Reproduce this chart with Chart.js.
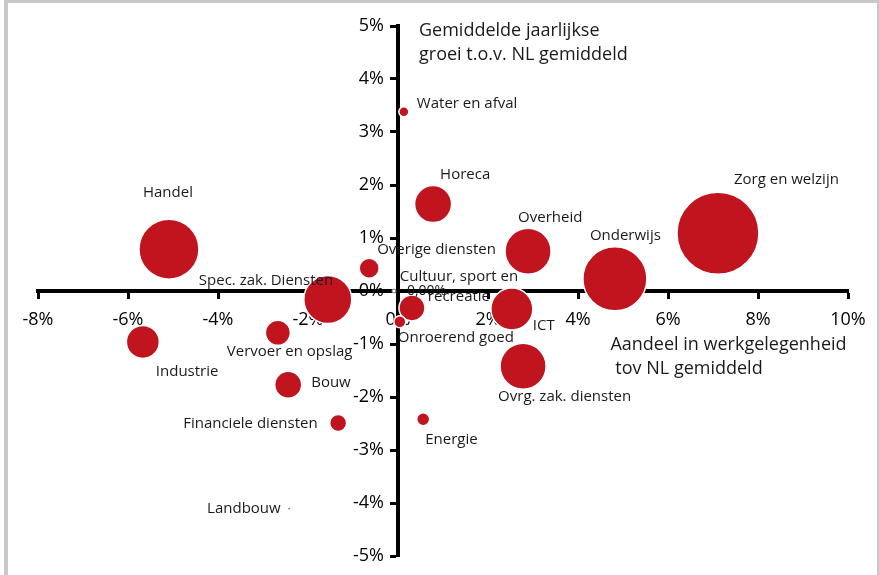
<!DOCTYPE html>
<html>
<head>
<meta charset="utf-8">
<script src="https://cdn.jsdelivr.net/npm/chart.js@4/dist/chart.umd.min.js"></script>
<style>
  html, body { margin: 0; padding: 0; background: #fff; }
  #wrap { width: 879px; height: 575px; position: relative; }
</style>
</head>
<body>
<div id="wrap"><canvas id="chart" width="879" height="575"></canvas></div>
<script>
// sectoren, aandeel in werkgelegenheid (x, %), groei (y, %), bubbelgrootte (px)
var sectoren = ["Zorg en welzijn", "Onderwijs", "Overheid", "Horeca", "Water en afval", "Handel",
  "Spec. zak. Diensten", "Overige diensten", "Cultuur, sport en\nrecreatie", "Onroerend goed", "ICT",
  "Ovrg. zak. diensten", "Energie", "Vervoer en opslag", "Industrie", "Bouw", "Financiele diensten", "Landbouw"];
var aandeel = [7.11, 4.82, 2.89, 0.78, 0.13, -5.09, -1.56, -0.64, 0.31, 0.04, 2.53, 2.78, 0.56, -2.67, -5.67, -2.44, -1.33, -2.42];
var groei   = [1.09, 0.23, 0.75, 1.64, 3.38, 0.79, -0.16, 0.43, -0.32, -0.58, -0.34, -1.42, -2.42, -0.79, -0.96, -1.77, -2.49, -4.11];
var grootte = [41, 32, 23, 18.5, 5, 30, 24, 10, 13, 6, 21, 23, 6.5, 12.5, 16.5, 13.5, 8.5, 1.5];

var xTicks = [-8, -6, -4, -2, 0, 2, 4, 6, 8, 10];
var yTicks = [-5, -4, -3, -2, -1, 0, 1, 2, 3, 4, 5];

// label offsets t.o.v. het middelpunt van de bubbel (links uitgelijnd, midden)
var labelPos = [[16,-53],[-25,-43],[-10,-34],[7,-29],[13,-8],[-26,-56],[-129,-19],[8,-18],
  [47,-31],[-2,16],[21,17],[-25,30],[2,20],[-51,19],[13,30],[23,-2],[-155,1],[-82,0]];

var RED = "#c0141f";
var FONT = "'Open Sans', 'DejaVu Sans', sans-serif";

var punten = [];
for (var i = 0; i < sectoren.length; i++) {
  punten.push({x: aandeel[i], y: groei[i], r: grootte[i]});
}

var frame = {
  id: "frame",
  beforeDraw: function(chart) {
    var c = chart.ctx;
    c.save();
    c.fillStyle = "#fff";
    c.fillRect(0, 0, chart.width, chart.height);
    c.fillStyle = "#c8c8c8";
    c.fillRect(4, 0, 4, chart.height);
    c.fillRect(4, 0, chart.width - 4, 3);
    c.fillRect(chart.width - 2, 0, 2, chart.height);
    c.restore();
  }
};

var labels = {
  id: "labels",
  afterDatasetsDraw: function(chart) {
    var c = chart.ctx;
    var meta = chart.getDatasetMeta(0);
    c.save();
    c.fillStyle = "#1a1a1a";
    c.font = "15px " + FONT;
    c.textBaseline = "middle";
    for (var i = 0; i < sectoren.length; i++) {
      var p = meta.data[i];
      var lines = sectoren[i].split("\n");
      if (lines.length > 1) {
        c.textAlign = "center";
        for (var j = 0; j < lines.length; j++) {
          c.fillText(lines[j], p.x + labelPos[i][0], p.y + labelPos[i][1] + j * 20);
        }
      } else {
        c.textAlign = "left";
        c.fillText(lines[0], p.x + labelPos[i][0], p.y + labelPos[i][1]);
      }
    }
    var o = chart.getDatasetMeta(1).data[0];
    c.textAlign = "left";
    c.font = "14px " + FONT;
    c.fillText("0,00%", o.x + 13, o.y);

    // astitels
    var xs = chart.scales.x, ys = chart.scales.y;
    var x0 = xs.getPixelForValue(0);
    c.font = "18px " + FONT;
    c.fillText("Gemiddelde jaarlijkse", x0 + 21, ys.getPixelForValue(5) + 5);
    c.fillText("groei t.o.v. NL gemiddeld", x0 + 21, ys.getPixelForValue(5) + 29);
    c.fillText("Aandeel in werkgelegenheid", xs.getPixelForValue(4.72), ys.getPixelForValue(-1.02));
    c.fillText("tov NL gemiddeld", xs.getPixelForValue(4.83), ys.getPixelForValue(-1.46));
    c.restore();
  }
};

new Chart(document.getElementById("chart"), {
  type: "bubble",
  data: {
    datasets: [{
      data: punten,
      backgroundColor: RED,
      borderColor: "#fff",
      borderWidth: 1.5,
      hoverRadius: 0
    }, {
      data: [{x: -0.09, y: 0, r: 2}],
      backgroundColor: "#fff",
      borderColor: "#888",
      borderWidth: 1
    }]
  },
  options: {
    responsive: false,
    animation: false,
    layout: {autoPadding: false, padding: {left: 38, right: 31, top: 26, bottom: 19}},
    plugins: {legend: {display: false}, tooltip: {enabled: false}},
    scales: {
      x: {
        type: "linear",
        position: {y: 0},
        min: xTicks[0], max: xTicks[xTicks.length - 1],
        afterBuildTicks: function(s) { s.ticks = xTicks.map(function(v) { return {value: v}; }); },
        border: {display: true, width: 4, color: "#000"},
        grid: {drawOnChartArea: false, drawTicks: true, tickLength: 6, tickWidth: 3, color: "#000"},
        ticks: {
          padding: 12,
          color: "#000",
          font: {family: FONT, size: 18},
          callback: function(v) { return v + "%"; }
        }
      },
      y: {
        type: "linear",
        position: {x: 0},
        min: yTicks[0], max: yTicks[yTicks.length - 1],
        afterBuildTicks: function(s) { s.ticks = yTicks.map(function(v) { return {value: v}; }); },
        border: {display: true, width: 4, color: "#000"},
        grid: {drawOnChartArea: false, drawTicks: true, tickLength: 6, tickWidth: 3, color: "#000"},
        ticks: {
          color: "#000",
          font: {family: FONT, size: 18},
          callback: function(v) { return v + "%   "; }
        }
      }
    }
  },
  plugins: [frame, labels]
});
</script>
</body>
</html>
